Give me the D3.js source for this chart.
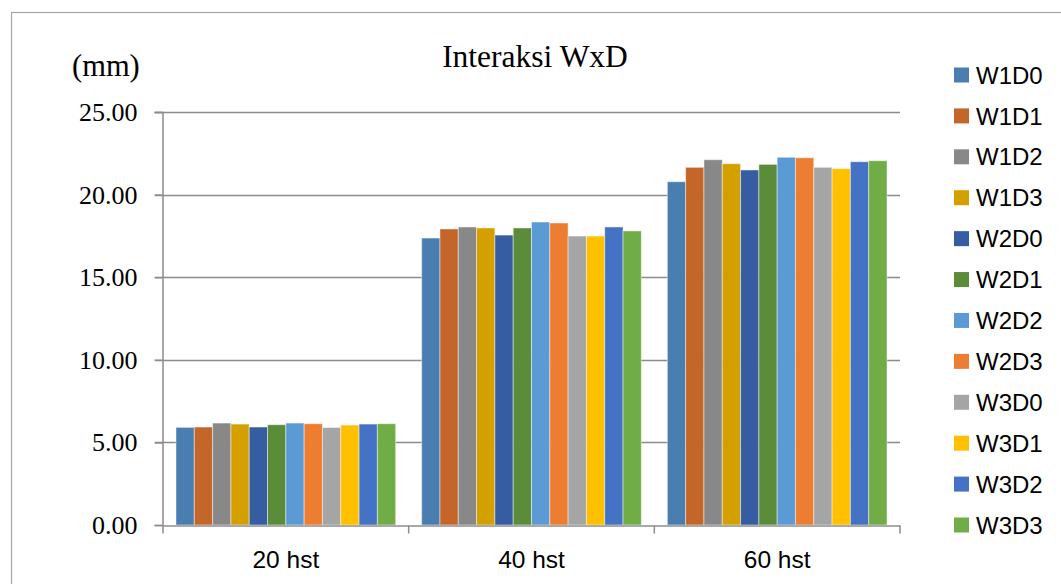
<!DOCTYPE html>
<html>
<head>
<meta charset="utf-8">
<script src="https://cdn.jsdelivr.net/npm/d3@7"></script>
<style>
  html, body { margin: 0; padding: 0; background: #fff; }
  svg { display: block; }
</style>
</head>
<body>
<svg id="chart" width="1061" height="584"></svg>
<script>
// ---- data ----
const categories = ["20 hst", "40 hst", "60 hst"];
const seriesNames = ["W1D0","W1D1","W1D2","W1D3","W2D0","W2D1","W2D2","W2D3","W3D0","W3D1","W3D2","W3D3"];
const seriesColors = ["#4a7eb0","#c4652a","#888888","#d4a000","#365da1","#5a8c3a","#5b9bd5","#ed7d31","#a5a5a5","#ffc000","#4472c4","#70ad47"];
const values20 = [5.91, 5.93, 6.17, 6.11, 5.93, 6.07, 6.17, 6.13, 5.90, 6.05, 6.11, 6.13];
const values40 = [17.37, 17.92, 18.04, 17.98, 17.55, 17.98, 18.34, 18.28, 17.49, 17.49, 18.04, 17.80];
const values60 = [20.78, 21.65, 22.11, 21.87, 21.49, 21.83, 22.26, 22.23, 21.65, 21.57, 21.99, 22.05];
const yTicks = [0, 5, 10, 15, 20, 25];
const titleText = "Interaksi WxD";
const unitText = "(mm)";

const valuesByCat = [values20, values40, values60];

const svg = d3.select("#chart");

// outer chart border
svg.append("rect")
  .attr("x", 11.5).attr("y", 12.5)
  .attr("width", 1070).attr("height", 600)
  .attr("fill", "#fff")
  .attr("stroke", "#a6a6a6").attr("stroke-width", 1.2);

const plot = { left: 163, right: 900, top: 112, bottom: 525 };

const y = d3.scaleLinear().domain([0, 25]).range([plot.bottom, plot.top]);
const x0 = d3.scaleBand().domain(categories).range([plot.left, plot.right]).padding(0);
const gap = 13;
const x1 = d3.scaleBand().domain(seriesNames).range([gap, x0.bandwidth() - gap]).padding(0);
const color = d3.scaleOrdinal().domain(seriesNames).range(seriesColors);

// gridlines
svg.append("g")
  .selectAll("line")
  .data(yTicks.filter(d => d > 0))
  .join("line")
  .attr("x1", plot.left - 8).attr("x2", plot.right)
  .attr("y1", d => Math.round(y(d)) + 0.5).attr("y2", d => Math.round(y(d)) + 0.5)
  .attr("stroke", "#8c8c8c").attr("stroke-width", 1.5);

// bars
const groups = svg.append("g")
  .selectAll("g")
  .data(categories)
  .join("g")
  .attr("transform", d => `translate(${x0(d)},0)`);

groups.selectAll("rect")
  .data((c, i) => seriesNames.map((s, j) => ({ s, v: valuesByCat[i][j] })))
  .join("rect")
  .attr("x", d => x1(d.s))
  .attr("y", d => y(d.v))
  .attr("width", x1.bandwidth())
  .attr("height", d => y(0) - y(d.v))
  .attr("fill", d => color(d.s))
  .attr("stroke", "rgba(255,255,255,0.45)")
  .attr("stroke-width", 1);

// y axis
const yAxis = d3.axisLeft(y).tickValues(yTicks).tickSize(8).tickFormat(d3.format(".2f"));
const gy = svg.append("g")
  .attr("transform", `translate(${plot.left - 0.5},0)`)
  .call(yAxis);
gy.select(".domain").attr("stroke", "#8c8c8c").attr("stroke-width", 1.5);
gy.selectAll(".tick line").attr("stroke", "#8c8c8c").attr("stroke-width", 1.5);
gy.selectAll(".tick text")
  .attr("x", -25)
  .attr("dy", "0.33em")
  .attr("font-family", "'Liberation Serif', 'Times New Roman', serif")
  .attr("font-size", 26)
  .attr("fill", "#000");

// x axis
const xAxis = d3.axisBottom(x0).tickSize(0).tickPadding(0);
const gx = svg.append("g")
  .attr("transform", `translate(0,${plot.bottom + 0.5})`)
  .call(xAxis);
gx.select(".domain").attr("stroke", "#8c8c8c").attr("stroke-width", 1.5);
gx.selectAll(".tick text")
  .attr("y", 42)
  .attr("dy", 0)
  .attr("font-family", "'Liberation Sans', Arial, sans-serif")
  .attr("font-size", 24.5)
  .attr("fill", "#000");
// category boundary ticks
const bounds = categories.map(c => x0(c)).concat([x0(categories[categories.length - 1]) + x0.bandwidth()]);
gx.append("g").selectAll("line")
  .data(bounds)
  .join("line")
  .attr("x1", d => d).attr("x2", d => d)
  .attr("y1", 0).attr("y2", 8)
  .attr("stroke", "#8c8c8c").attr("stroke-width", 1.5);

// title & unit
svg.append("text")
  .attr("x", 535).attr("y", 67)
  .attr("text-anchor", "middle")
  .attr("font-family", "'Liberation Serif', 'Times New Roman', serif")
  .attr("font-size", 31.5)
  .attr("fill", "#000")
  .text(titleText);

svg.append("text")
  .attr("x", 72).attr("y", 76)
  .attr("font-family", "'Liberation Serif', 'Times New Roman', serif")
  .attr("font-size", 30.5)
  .attr("fill", "#000")
  .text(unitText);

// legend
const legendY = d3.scalePoint().domain(seriesNames).range([75, 525]);
const leg = svg.append("g")
  .selectAll("g")
  .data(seriesNames)
  .join("g")
  .attr("transform", d => `translate(954,${legendY(d)})`);
leg.append("rect")
  .attr("x", 0).attr("y", -7.5)
  .attr("width", 15).attr("height", 15)
  .attr("fill", d => color(d));
leg.append("text")
  .attr("x", 22).attr("y", 0)
  .attr("dy", "0.36em")
  .attr("font-family", "'Liberation Sans', Arial, sans-serif")
  .attr("font-size", 24)
  .attr("fill", "#000")
  .text(d => d);
</script>
</body>
</html>
